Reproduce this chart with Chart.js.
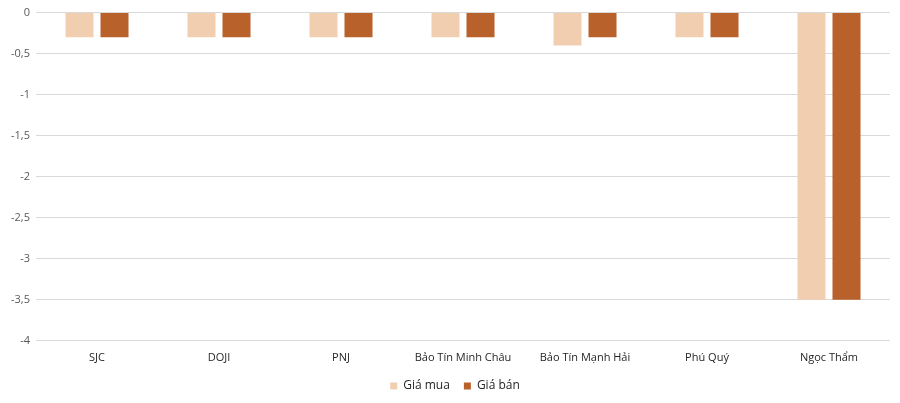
<!DOCTYPE html>
<html>
<head>
<meta charset="utf-8">
<script src="https://cdn.jsdelivr.net/npm/chart.js@4"></script>
<style>
  html, body { margin: 0; padding: 0; background: #fff; }
  #wrap { width: 900px; height: 403px; }
</style>
</head>
<body>
<div id="wrap"><canvas id="chart"></canvas></div>
<script>
// Data
const categories = ["SJC", "DOJI", "PNJ", "Bảo Tín Minh Châu", "Bảo Tín Mạnh Hải", "Phú Quý", "Ngọc Thẩm"];
const giaMua = [-0.3, -0.3, -0.3, -0.3, -0.4, -0.3, -3.5];
const giaBan = [-0.3, -0.3, -0.3, -0.3, -0.3, -0.3, -3.5];
const seriesNames = ["Giá mua", "Giá bán"];

const ctx = document.getElementById("chart").getContext("2d");

// nudge the legend a bit to the right, like the original
const legendShift = {
  id: "legendShift",
  afterLayout(c) {
    c.legend.left += 10;
    c.legend.right += 10;
  }
};

const chart = new Chart(ctx, {
  type: "bar",
  data: {
    labels: categories,
    datasets: [
      { label: seriesNames[0], data: giaMua, backgroundColor: "#F2CEB1" },
      { label: seriesNames[1], data: giaBan, backgroundColor: "#B9612B" }
    ]
  },
  options: {
    responsive: true,
    maintainAspectRatio: false,
    animation: false,
    categoryPercentage: 0.574,
    barPercentage: 0.8,
    layout: { padding: { top: 12, right: 10, left: 0, bottom: 1 } },
    scales: {
      x: {
        grid: { display: false },
        border: { display: false },
        ticks: {
          color: "#262626",
          font: { family: "Open Sans", size: 11 },
          padding: 2,
          maxRotation: 0
        }
      },
      y: {
        min: -4,
        max: 0,
        border: { display: false },
        grid: { color: "#D9D9D9", lineWidth: 1, drawTicks: false },
        afterFit: (scale) => { scale.width = 36; },
        ticks: {
          stepSize: 0.5,
          color: "#595959",
          padding: 6,
          font: { family: "Open Sans", size: 11 },
          callback: (v) => String(v).replace(".", ",")
        }
      }
    },
    plugins: {
      tooltip: { enabled: false },
      legend: {
        position: "bottom",
        labels: {
          boxWidth: 7,
          boxHeight: 7,
          padding: 14,
          color: "#262626",
          font: { family: "Open Sans", size: 12 }
        }
      }
    }
  },
  plugins: [legendShift]
});
</script>
</body>
</html>
